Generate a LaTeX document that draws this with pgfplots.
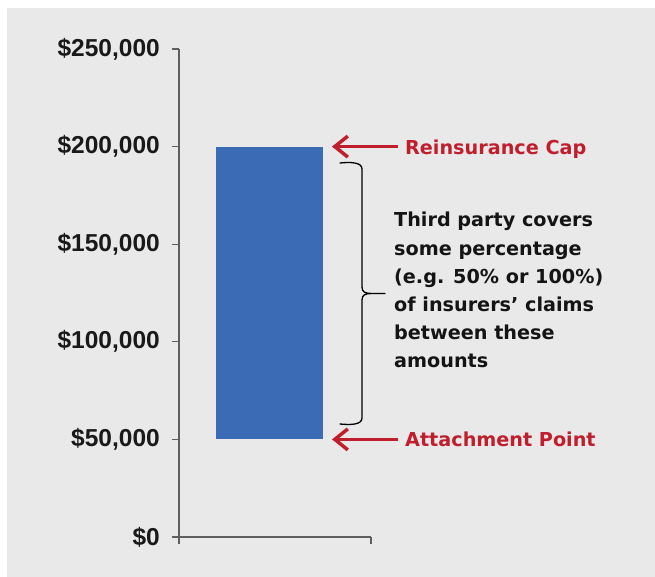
\documentclass[border=0pt]{standalone}
\usepackage{pgfplots}
\pgfplotsset{compat=1.18}
\usepackage{fontspec}
\setmainfont{DejaVu Sans}
\newfontfamily\tickfont{Liberation Sans}
\usetikzlibrary{arrows.meta}
\definecolor{bg}{RGB}{233,233,233}
\definecolor{barblue}{RGB}{58,107,180}
\definecolor{capred}{RGB}{192,30,45}
\definecolor{axgray}{RGB}{95,95,95}
\tikzset{txt/.style={anchor=base west, inner sep=0pt, text=black!92, font=\bfseries\fontsize{19.2}{28.2}\selectfont}}
\begin{document}
\begin{tikzpicture}[x=1pt,y=1pt]
\fill[white] (0,0) rectangle (655,577);
\fill[bg] (7,0) rectangle (655,569);
\begin{axis}[
  at={(179pt,40pt)}, anchor=south west,
  scale only axis, width=192pt, height=488pt,
  xmin=0, xmax=1, ymin=0, ymax=250000,
  axis x line=bottom, axis y line=left,
  axis line style={-, draw=axgray, line width=1.2pt},
  tick style={draw=axgray, line width=1.2pt},
  tick align=outside, major tick length=7pt,
  xtick={0,1}, xticklabels={},
  scaled y ticks=false,
  ytick={0,50000,100000,150000,200000,250000},
  yticklabels={{\$0},{\$50,000},{\$100,000},{\$150,000},{\$200,000},{\$250,000}},
  yticklabel style={font=\tickfont\bfseries\fontsize{24.5}{29}\selectfont, text=black!90, anchor=east, inner sep=0pt, xshift=-12pt},
  clip=false,
]
% floating bar: from attachment point (50,000) to reinsurance cap (200,000)
\addplot[draw=none, fill=barblue] coordinates {(0.193,50000) (0.750,50000) (0.750,200000) (0.193,200000)} -- cycle;
% arrows
\draw[capred, line width=3.5pt, -{Straight Barb[length=13pt,width=21pt]}] (axis cs:1.141,200000) -- (axis cs:0.797,200000);
\draw[capred, line width=3.5pt, -{Straight Barb[length=13pt,width=21pt]}] (axis cs:1.141,50000) -- (axis cs:0.797,50000);
\node[anchor=base west, inner sep=0pt, text=capred, font=\bfseries\fontsize{19.2}{23}\selectfont, yshift=-7.5pt] at (axis cs:1.177,200000) {Reinsurance Cap};
\node[anchor=base west, inner sep=0pt, text=capred, font=\bfseries\fontsize{19.2}{23}\selectfont, yshift=-7.5pt] at (axis cs:1.177,50000) {Attachment Point};
% text block
\node[txt] at (axis cs:1.1198,158811) {Third party covers};
\node[txt] at (axis cs:1.1198,144365) {some percentage};
\node[txt] at (axis cs:1.1198,129918) {(e.g. 50\% or 100\%)};
\node[txt] at (axis cs:1.1198,115471) {of insurers’ claims};
\node[txt] at (axis cs:1.1198,101025) {between these};
\node[txt] at (axis cs:1.1198,86578) {amounts};
\end{axis}
% brace
\draw[black, line width=1.3pt, line cap=round, line join=round]
  (340,414) .. controls (350,415) and (362,415) .. (362,408)
  -- (362,290) .. controls (362,285) and (365,283.5) .. (372,283.5) -- (385,283.5)
  (372,283.5) .. controls (365,283.5) and (362,282) .. (362,277)
  -- (362,159) .. controls (362,152) and (350,152) .. (340,153);
\end{tikzpicture}
\end{document}
